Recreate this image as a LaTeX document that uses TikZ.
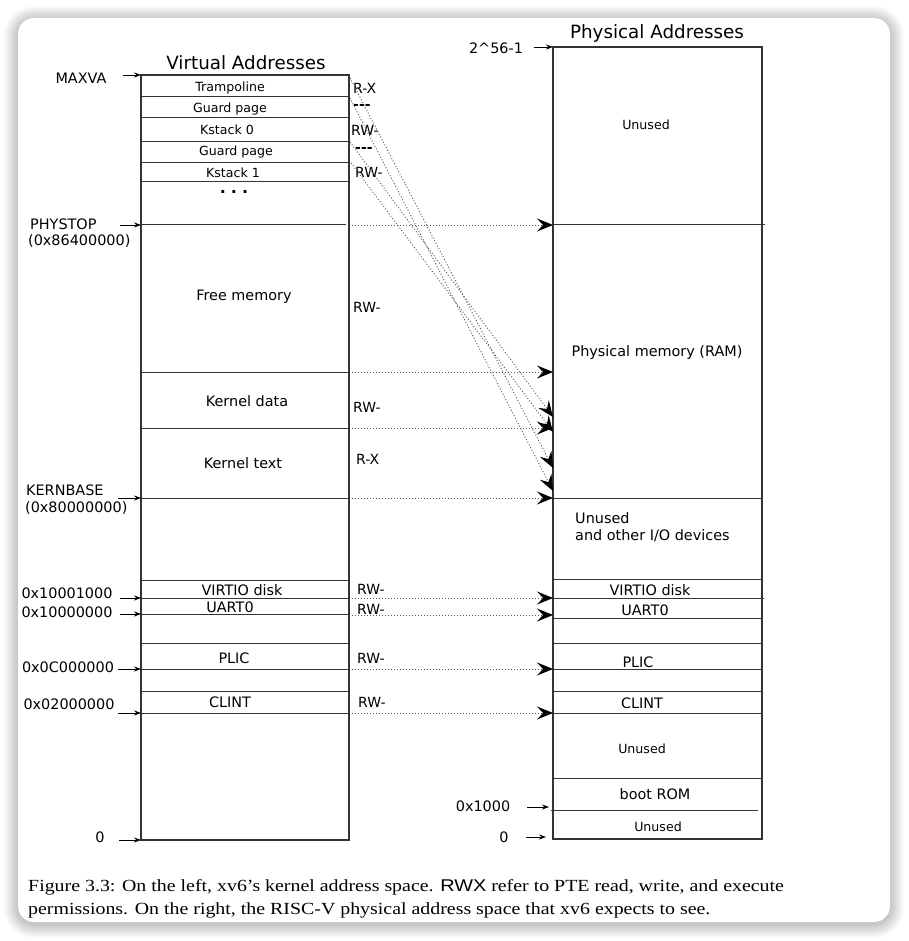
\documentclass[tikz,border=0pt]{standalone}
\usepackage{fontspec}
\setmainfont{DejaVu Sans}
\newfontfamily\capfont[FakeStretch=1.17]{Liberation Serif}
\newfontfamily\capsans[FakeStretch=1.17]{Liberation Sans}
\usetikzlibrary{arrows.meta}

\tikzset{
  hdr/.style={font=\fontsize{18.3}{20}\selectfont},
  big/.style={font=\fontsize{14.4}{17}\selectfont},
  small/.style={font=\fontsize{12.6}{15}\selectfont},
  perm/.style={font=\fontsize{14}{16}\selectfont, anchor=west, inner sep=0pt},
  addrlbl/.style={font=\fontsize{14.4}{17}\selectfont, inner sep=0pt},
  frame/.style={draw=black!80, line width=1.5pt},
  sep/.style={draw=black!80, line width=1pt},
  addr/.style={draw=black, line width=0.8pt, -{Stealth[length=7pt,width=5pt]}},
  map/.style={draw=black!65, line width=0.9pt, dash pattern=on 1pt off 2pt,
    -{Stealth[length=16pt,width=13pt,inset=6pt,black]}},
}

\begin{document}
\begin{tikzpicture}[x=1pt, y=-1pt]
  \useasboundingbox (0,0) rectangle (908,941);
  \fill[white] (0,0) rectangle (908,941);

  % card with soft shadow
  \foreach \i in {1,...,14}
    \fill[black, opacity=0.016, rounded corners=16+\i] (18-\i,18-\i+2) rectangle (890+\i,922+\i+2);
  \fill[white, rounded corners=16] (18,18) rectangle (890,922);

  % virtual address space
  \node[hdr] (vtitle) at (246,63) {Virtual Addresses};
  \draw[frame] (141,75) rectangle (349,840);
  \foreach \y in {97,118,142,163,182,372,428,498,580,598,614,643,669,691,713}
    \draw[sep] (141,\y) -- (349,\y);
  \draw[sep] (141,225) -- (346,225);

  \node[small] (tramp) at (230,88) {Trampoline};
  \node[small] (guard0) at (230,109) {Guard page};
  \node[small] (kstack0) at (227,130) {Kstack 0};
  \node[small] (guard1) at (236,152) {Guard page};
  \node[small, inner sep=1pt] (kstack1) at (233,173) {Kstack 1};
  \node[font=\fontsize{16}{16}\selectfont\bfseries, inner sep=0pt] (vdots) at (234,192) {.\hspace{5pt}.\hspace{5pt}.};
  \node[big] (freemem) at (244,297) {Free memory};
  \node[big] (kdata) at (247,401) {Kernel data};
  \node[big] (ktext) at (243,463) {Kernel text};
  \node[big] (vvirtio) at (242,590) {VIRTIO disk};
  \node[big] (vuart) at (230,607) {UART0};
  \node[big] (vplic) at (234,658) {PLIC};
  \node[big] (vclint) at (230,702) {CLINT};

  % permissions
  \node[perm] (p1) at (353,88) {R-X};
  \node[perm] (p2) at (353,107) {\bfseries{-}{-}{-}};
  \node[perm] (p3) at (351,130) {RW-};
  \node[perm] (p4) at (355,150) {\bfseries{-}{-}{-}};
  \node[perm] (p5) at (355,172) {RW-};
  \node[perm] (p6) at (353,307) {RW-};
  \node[perm] (p7) at (353,407) {RW-};
  \node[perm] (p8) at (356,459) {R-X};
  \node[perm] (p9) at (357,589) {RW-};
  \node[perm] (p10) at (357,609) {RW-};
  \node[perm] (p11) at (357,658) {RW-};
  \node[perm] (p12) at (358,702) {RW-};

  % virtual addresses
  \coordinate (va-maxva) at (141,75);
  \coordinate (va-phystop) at (141,225);
  \coordinate (va-kernbase) at (141,498);
  \coordinate (va-virtio) at (141,598);
  \coordinate (va-uart) at (141,614);
  \coordinate (va-plic) at (141,669);
  \coordinate (va-clint) at (141,713);
  \coordinate (va-zero) at (141,840);
  \node[addrlbl] (maxva) at (81,78) {MAXVA};
  \node[addrlbl, anchor=west] (phystop) at (30,224) {PHYSTOP};
  \node[addrlbl, anchor=west] (phystopval) at (28,241) {(0x86400000)};
  \node[addrlbl, anchor=west] (kernbase) at (26,490) {KERNBASE};
  \node[addrlbl, anchor=west] (kernbaseval) at (25,508) {(0x80000000)};
  \node[addrlbl] (avirtio) at (67,593) {0x10001000};
  \node[addrlbl] (auart) at (67,612) {0x10000000};
  \node[addrlbl] (aplic) at (68,667) {0x0C000000};
  \node[addrlbl] (aclint) at (69,704) {0x02000000};
  \node[addrlbl] (azero) at (100,837) {0};
  \draw[addr] ([xshift=-18pt]va-maxva) -- (va-maxva);
  \draw[addr] ([xshift=-21pt]va-phystop) -- (va-phystop);
  \draw[addr] ([xshift=-23pt]va-kernbase) -- (va-kernbase);
  \draw[addr] ([xshift=-21pt]va-virtio) -- (va-virtio);
  \draw[addr] ([xshift=-21pt]va-uart) -- (va-uart);
  \draw[addr] ([xshift=-23pt]va-plic) -- (va-plic);
  \draw[addr] ([xshift=-23pt]va-clint) -- (va-clint);
  \draw[addr] ([xshift=-22pt]va-zero) -- (va-zero);

  % physical address space
  \node[hdr] (ptitle) at (657,33) {Physical Addresses};
  \draw[frame] (553,47) rectangle (762,839);
  \foreach \y in {498,579,618,643,669,691,713,778}
    \draw[sep] (553,\y) -- (762,\y);
  \draw[sep] (553,225) -- (765,225);
  \draw[sep] (553,598) -- (764,598);
  \draw[sep] (551,810) -- (758,810);

  \node[small] (unused1) at (646,125) {Unused};
  \node[big] (ram) at (657,353) {Physical memory (RAM)};
  \node[big, anchor=west, inner sep=0pt] (io1) at (575,518) {Unused};
  \node[big, anchor=west, inner sep=0pt] (io2) at (575,536) {and other I/O devices};
  \node[big] (pvirtio) at (650,590) {VIRTIO disk};
  \node[big] (puart) at (645,610) {UART0};
  \node[big] (pplic) at (638,662) {PLIC};
  \node[big] (pclint) at (642,703) {CLINT};
  \node[small] (unused2) at (642,749) {Unused};
  \node[big] (bootrom) at (655,794) {boot ROM};
  \node[small] (unused3) at (658,827) {Unused};

  \coordinate (pa-top) at (553,47);
  \coordinate (pa-rom) at (549,807);
  \coordinate (pa-zero) at (546,837);
  \node[addrlbl] (atop) at (496,48) {2\^{}56-1};
  \node[addrlbl] (arom) at (483,806) {0x1000};
  \node[addrlbl] (pzero) at (504,837) {0};
  \draw[addr] ([xshift=-19pt]pa-top) -- (pa-top);
  \draw[addr] ([xshift=-22pt]pa-rom) -- (pa-rom);
  \draw[addr] ([xshift=-20pt]pa-zero) -- (pa-zero);

  % mappings
  \foreach \y/\n in {225/phystop, 372/kdata, 428/ktext, 498/kernbase, 598/virtio, 615/uart, 669/plic, 713/clint} {
    \coordinate (v-\n) at (352,\y);
    \coordinate (p-\n) at (553,\y);
  }
  \foreach \n in {phystop, kdata, ktext, kernbase, virtio, uart, plic, clint}
    \draw[map] (v-\n) -- (p-\n);

  \coordinate (v-tramp0) at (350,78);
  \coordinate (v-tramp1) at (350,98);
  \coordinate (v-kstack0) at (350,142);
  \coordinate (v-kstack1) at (351,163);
  \coordinate (p-tramp0) at (553,468);
  \coordinate (p-tramp1) at (553,491);
  \coordinate (p-kstack0) at (553,417);
  \coordinate (p-kstack1) at (553,432);
  \foreach \n in {tramp0, tramp1, kstack0, kstack1}
    \draw[map] (v-\n) -- (p-\n);

  % caption
  \node[anchor=north west, inner sep=0pt, align=left,
        font=\capfont\fontsize{17}{23}\selectfont] (caption) at (28,879)
    {Figure 3.3: On the left, xv6’s kernel address space. {\capsans RWX} refer to PTE read, write, and execute\\
     permissions. On the right, the RISC-V physical address space that xv6 expects to see.};
\end{tikzpicture}
\end{document}
